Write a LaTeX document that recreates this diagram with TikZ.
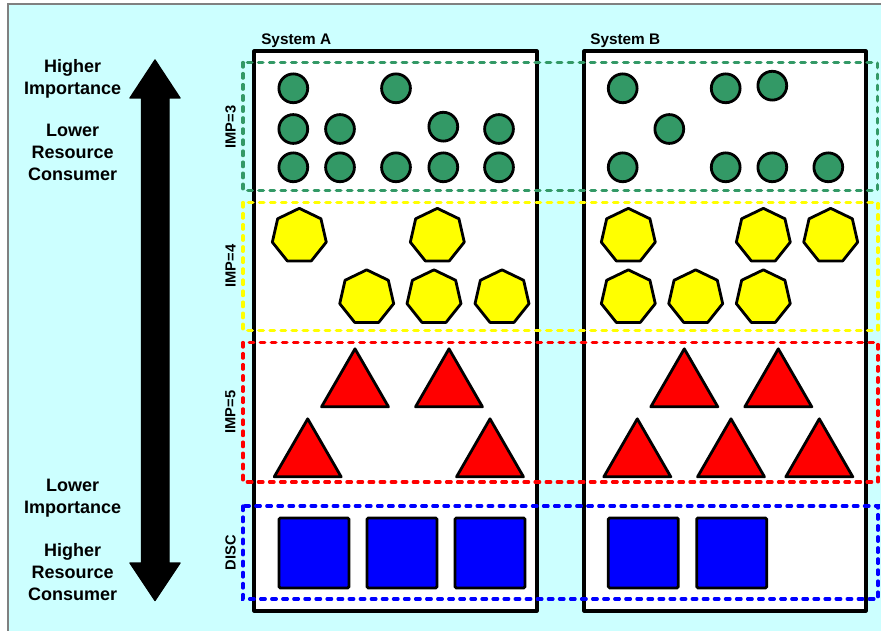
\documentclass[tikz,border=0pt]{standalone}
\usepackage{fontspec}
\setmainfont{Liberation Sans}
\usetikzlibrary{shapes.geometric}
\definecolor{bgcyan}{HTML}{CCFFFF}
\definecolor{impgreen}{HTML}{339966}
\definecolor{impyellow}{HTML}{FFFF00}
\definecolor{impred}{HTML}{FF0000}
\definecolor{discblue}{HTML}{0000FF}
\definecolor{frame}{HTML}{808080}
\tikzset{
  sysbox/.style={draw=black,fill=white,line width=2.3pt,line join=round},
  band/.style={line width=2.5pt,line cap=round,dash pattern=on 3.4pt off 4.9pt},
  bandlabel/.style={rotate=90,font=\fontsize{11}{13}\selectfont\bfseries,inner sep=0pt},
  syslabel/.style={anchor=base west,font=\fontsize{11.5}{14}\selectfont\bfseries,inner sep=0pt},
  sidetext/.style={anchor=base,font=\fontsize{13.5}{16}\selectfont\bfseries,inner sep=0pt},
  dot/.style={circle,draw=black,fill=impgreen,line width=2.1pt,minimum size=21.6pt,inner sep=0pt},
  hept/.style={regular polygon,regular polygon sides=7,draw=black,fill=impyellow,line width=2.1pt,line join=round,minimum size=41.5pt,inner sep=0pt},
  tri/.style={regular polygon,regular polygon sides=3,draw=black,fill=impred,line width=2.1pt,line join=round,minimum size=58pt,inner sep=0pt},
  sq/.style={rectangle,draw=black,fill=discblue,line width=2.1pt,rounded corners=1pt,minimum size=52.5pt,inner sep=0pt}
}
\begin{document}
\begin{tikzpicture}[x=0.75pt,y=-0.75pt]
\useasboundingbox (0,0) rectangle (881,631);
\fill[white] (0,0) rectangle (881,631);
\fill[bgcyan] (8,4) rectangle (881,631);
\draw[frame,line width=1pt] (8,631) -- (8,4) -- (881,4);

% big arrow
\filldraw[black,line width=1pt,line join=round]
  (155,60) -- (180,98) -- (169,98) -- (169,563) -- (180,563) -- (155,600.5)
  -- (130,563) -- (141.5,563) -- (141.5,98) -- (130,98) -- cycle;

% side texts
\node[sidetext] (t1) at (72.7,72.7) {Higher};
\node[sidetext] (t2) at (72.7,94.3) {Importance};
\node[sidetext] (t3) at (72.7,136.7) {Lower};
\node[sidetext] (t4) at (72.7,158.5) {Resource};
\node[sidetext] (t5) at (72.7,180.2) {Consumer};
\node[sidetext] (b1) at (72.7,491.7) {Lower};
\node[sidetext] (b2) at (72.7,513.5) {Importance};
\node[sidetext] (b3) at (72.7,556.7) {Higher};
\node[sidetext] (b4) at (72.7,578.5) {Resource};
\node[sidetext] (b5) at (72.7,600.3) {Consumer};

% systems
\draw[sysbox] (254,51) rectangle (537,611);
\draw[sysbox] (584,51) rectangle (866,611);
\node[syslabel] (sa) at (261,44.3) {System A};
\node[syslabel] (sb) at (590,44.3) {System B};

% bands
\draw[band,impgreen] (243,62.5) rectangle (877.5,190.5);
\draw[band,impyellow] (243,202.5) rectangle (878,330.5);
\draw[band,impred] (243,342.5) rectangle (878,482);
\draw[band,discblue] (243,506) rectangle (878,599);
\node[bandlabel] (l3) at (230.5,127) {IMP=3};
\node[bandlabel] (l4) at (230.5,266) {IMP=4};
\node[bandlabel] (l5) at (230.5,412) {IMP=5};
\node[bandlabel] (l6) at (230.5,552.5) {DISC};

% green circles, system A
\node[dot] (ga1) at (293.3,88.3) {};
\node[dot] (ga2) at (396,88.3) {};
\node[dot] (ga3) at (293.3,129) {};
\node[dot] (ga4) at (340,129) {};
\node[dot] (ga5) at (443.3,126.7) {};
\node[dot] (ga6) at (499,129) {};
\node[dot] (ga7) at (293.3,167.3) {};
\node[dot] (ga8) at (340,167.3) {};
\node[dot] (ga9) at (396,167.3) {};
\node[dot] (ga10) at (443.3,167.3) {};
\node[dot] (ga11) at (499,167.3) {};
% green circles, system B
\node[dot] (gb1) at (622.7,88.3) {};
\node[dot] (gb2) at (725.7,88.3) {};
\node[dot] (gb3) at (772.3,85.7) {};
\node[dot] (gb4) at (669.3,129) {};
\node[dot] (gb5) at (622.7,167.3) {};
\node[dot] (gb6) at (725.7,167.3) {};
\node[dot] (gb7) at (772.3,167.3) {};
\node[dot] (gb8) at (828.3,167.3) {};

% yellow heptagons, system A
\node[hept] (ya1) at (299.3,236) {};
\node[hept] (ya2) at (437.3,236) {};
\node[hept] (ya3) at (366.7,297.5) {};
\node[hept] (ya4) at (434,297.5) {};
\node[hept] (ya5) at (502,297.5) {};
% yellow heptagons, system B
\node[hept] (yb1) at (628.3,236) {};
\node[hept] (yb2) at (763.3,236) {};
\node[hept] (yb3) at (830.7,236) {};
\node[hept] (yb4) at (628.3,297.5) {};
\node[hept] (yb5) at (695.7,297.5) {};
\node[hept] (yb6) at (763.3,297.5) {};

% red triangles, system A
\node[tri] (ra1) at (355,387.5) {};
\node[tri] (ra2) at (449,387.5) {};
\node[tri] (ra3) at (307.7,457.5) {};
\node[tri] (ra4) at (490,457.5) {};
% red triangles, system B
\node[tri] (rb1) at (684.3,387.5) {};
\node[tri] (rb2) at (778.3,387.5) {};
\node[tri] (rb3) at (637.3,457.5) {};
\node[tri] (rb4) at (731,457.5) {};
\node[tri] (rb5) at (819.3,457.5) {};

% blue squares
\node[sq] (da1) at (314,552.9) {};
\node[sq] (da2) at (402,552.9) {};
\node[sq] (da3) at (490,552.9) {};
\node[sq] (db1) at (643.3,552.9) {};
\node[sq] (db2) at (731.7,552.9) {};
\end{tikzpicture}
\end{document}
